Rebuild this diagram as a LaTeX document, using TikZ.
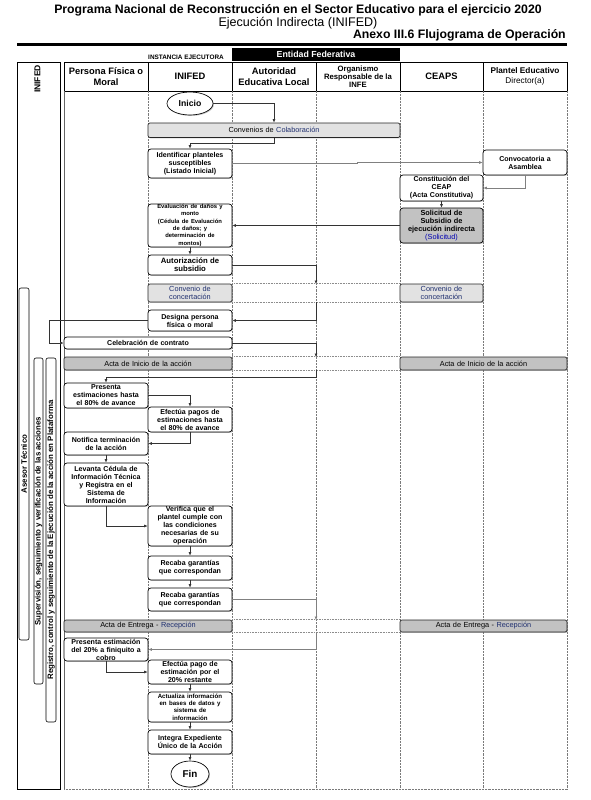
\documentclass[tikz,border=0pt]{standalone}
\usepackage{fontspec}
\setmainfont{Liberation Sans}
\usetikzlibrary{arrows.meta,shadows,calc,shapes.geometric}
\definecolor{barlight}{HTML}{E2E2E2}
\definecolor{bardark}{HTML}{C2C2C2}
\definecolor{lanegray}{HTML}{7A7A7A}
\definecolor{navy}{HTML}{1F2F6F}
\newcommand{\fs}[2]{\fontsize{#1}{#2}\selectfont}
\tikzset{
  shad/.style={drop shadow={shadow xshift=0.7pt, shadow yshift=-0.7pt, fill=black!45}},
  box/.style={draw=black, line width=0.5pt, rounded corners=2.2pt, fill=white, inner sep=0pt,
    align=center, font=\bfseries\fs{5.3}{6}, shad},
  graybox/.style={box, fill=bardark},
  bar/.style={draw=black!85, line width=0.5pt, rounded corners=1.5pt, fill=barlight, inner sep=0pt,
    align=center, font=\fs{5.5}{6.2}, shad},
  darkbar/.style={bar, fill=bardark},
  term/.style={ellipse, draw=black, line width=0.5pt, fill=white, inner sep=0pt, font=\bfseries\fs{6.5}{7.5}, shad},
  arr/.style={-{Latex[length=2.6pt,width=2.2pt]}, line width=0.45pt, draw=black!80},
  garr/.style={arr, draw=black!50},
  lane/.style={draw=lanegray, line width=0.4pt, dash pattern=on 1.6pt off 0.8pt},
  dotl/.style={draw=black!45, line width=0.7pt, dash pattern=on 0.6pt off 0.6pt},
  vbar/.style={draw=black, line width=0.45pt, rounded corners=1.5pt, fill=white, inner sep=0pt,
    font=\bfseries\fs{5.9}{6.5}},
  hdr/.style={align=center, font=\bfseries\fs{7}{7.9}, inner sep=0pt}
}
\newcommand{\bx}[7]{%
  \pgfmathsetlengthmacro{\bxw}{(#5-#3)*0.75pt}%
  \pgfmathsetlengthmacro{\bxh}{(#6-#4)*0.75pt}%
  \pgfmathsetlengthmacro{\bxt}{(#5-#3-3)*0.75pt}%
  \node[#2, minimum width=\bxw, minimum height=\bxh, text width=\bxt] (#1) at ({(#3+#5)/2},{(#4+#6)/2}) {#7};}
\begin{document}
\begin{tikzpicture}[x=0.75pt,y=-0.75pt]
\useasboundingbox (0,0) rectangle (590,800);
% titles
\node[font=\bfseries\fs{9.2}{10}, inner sep=0pt] (t1) at (298,10.5) {Programa Nacional de Reconstrucción en el Sector Educativo para el ejercicio 2020};
\node[font=\fs{9.4}{10}, inner sep=0pt] (t2) at (298,23) {Ejecución Indirecta (INIFED)};
\node[font=\bfseries\fs{9.2}{10}, inner sep=0pt, anchor=east] (t3) at (566,35.5) {Anexo III.6 Flujograma de Operación};
\draw[line width=1.8pt] (17,44.5) -- (567,44.5);
% upper header labels
\node[font=\bfseries\fs{4.8}{5.5}, inner sep=0pt] (inst) at (186,57) {INSTANCIA EJECUTORA};
\node[fill=black, text=white, font=\bfseries\fs{6.6}{7.5}, inner sep=0pt, minimum width=126pt, minimum height=9.75pt] (ef) at (316,54.5) {Entidad Federativa};
% INIFED outer lane
\draw[line width=0.5pt] (17,62) rectangle (60,789);
\node[rotate=90, font=\bfseries\fs{6.4}{7}, inner sep=0pt] (inifedv) at (37.5,79) {INIFED};
% header row
\draw[line width=0.5pt] (64,62) rectangle (567,91);
\foreach \x in {148,232,316,400,483} \draw[line width=0.5pt] (\x,62) -- (\x,91);
\node[hdr] (hP) at (106,76.5) {Persona Física o\\Moral};
\node[hdr] (hI) at (190,76.5) {INIFED};
\node[hdr] (hA) at (274,76.5) {Autoridad\\Educativa Local};
\node[hdr, font=\bfseries\fs{5.8}{6.2}] (hO) at (358,76.5) {Organismo\\Responsable de la\\INFE};
\node[hdr] (hC) at (441.5,76.5) {CEAPS};
\node[hdr, font=\bfseries\fs{6.2}{7}] (hPl) at (525,76.5) {Plantel Educativo\\\mdseries Director(a)};
% lanes
\foreach \x in {148,232,316,400,483} \draw[lane] (\x,91) -- (\x,789);
\draw[lane] (567,91) -- (567,789) -- (64,789);
\draw[draw=black!60, line width=0.4pt] (64,91) -- (64,789);
% left vertical bars
\node[vbar, rotate=90, minimum width=264pt, minimum height=7.5pt] (ases) at (24,464) {Asesor Técnico};
\node[vbar, rotate=90, minimum width=244.5pt, minimum height=6.75pt] (superv) at (38.5,521) {Supervisión, seguimiento y verificación de las acciones};
\node[vbar, rotate=90, minimum width=273pt, minimum height=7.5pt] (regis) at (51,540) {Registro, control y seguimiento de la Ejecución de la acción en Plataforma};
% nodes
\node[term, minimum width=34.5pt, minimum height=17.25pt] (inicio) at (190,103.5) {Inicio};
\bx{conv}{bar}{148}{123}{400}{137.5}{Convenios de {\color{navy}Colaboración}}
\bx{ident}{box}{148}{149}{232}{178}{Identificar planteles\\susceptibles\\(Listado Inicial)}
\bx{convoc}{box}{483}{150}{567}{175}{Convocatoria a\\Asamblea}
\bx{ceap}{box}{400}{175}{483}{201}{Constitución del\\CEAP\\(Acta Constitutiva)}
\bx{solic}{graybox}{400}{208}{483}{243}{\fs{5.5}{6.1}Solicitud de\\Subsidio de\\ejecución indirecta\\\mdseries{\color{blue!70!black}(Solicitud)}}
\bx{eval}{box}{148}{204}{232}{247}{\fs{4.4}{5.4}Evaluación de daños y\\monto\\(Cédula de Evaluación\\de daños; y\\determinación de\\montos)}
\bx{autor}{box}{148}{255}{232}{275}{\fs{5.8}{6.5}Autorización de\\subsidio}
\bx{concL}{bar}{148}{284}{232}{302}{\color{navy}Convenio de\\concertación}
\bx{concR}{bar}{400}{284}{483}{302}{\color{navy}Convenio de\\concertación}
\bx{designa}{box}{148}{310}{232}{331}{Designa persona\\física o moral}
\bx{celeb}{box}{64}{337}{232}{349}{Celebración de contrato}
\bx{aiL}{darkbar}{64}{357}{232}{370}{Acta de Inicio de la acción}
\bx{aiR}{darkbar}{400}{357}{567}{370}{Acta de Inicio de la acción}
\bx{pres}{box}{64}{383}{148}{408}{Presenta\\estimaciones hasta\\el 80\% de avance}
\bx{efec}{box}{148}{407}{232}{432}{Efectúa pagos de\\estimaciones hasta\\el 80\% de avance}
\bx{notif}{box}{64}{432}{148}{455}{Notifica terminación\\de la acción}
\bx{levan}{box}{64}{463}{148}{506}{Levanta Cédula de\\Información Técnica\\y Registra en el\\Sistema de\\Información}
\bx{verif}{box}{148}{506}{232}{546}{Verifica que el\\plantel cumple con\\las condiciones\\necesarias de su\\operación}
\bx{recA}{box}{148}{556}{232}{580}{Recaba garantías\\que correspondan}
\bx{recB}{box}{148}{588}{232}{611}{Recaba garantías\\que correspondan}
\bx{aeL}{darkbar}{64}{620}{232}{632}{Acta de Entrega - {\color{navy}Recepción}}
\bx{aeR}{darkbar}{400}{620}{567}{632}{Acta de Entrega - {\color{navy}Recepción}}
\bx{pest}{box}{64}{638}{148}{661}{Presenta estimación\\del 20\% a finiquito a\\cobro}
\bx{epago}{box}{148}{660}{232}{684}{Efectúa pago de\\estimación por el\\20\% restante}
\bx{actu}{box}{148}{692}{232}{722}{\fs{4.6}{5.3}Actualiza información\\en bases de datos y\\sistema de\\información}
\bx{integ}{box}{148}{730}{232}{754}{Integra Expediente\\Único de la Acción}
\node[term, font=\bfseries\fs{7.4}{8}, minimum width=28.5pt, minimum height=19.5pt] (fin) at (190,774) {Fin};
% dotted bands
\draw[dotl] (concL.north east) -- (concR.north west);
\draw[dotl] (concL.south east) -- (concR.south west);
\draw[dotl] (aiL.north east) -- (aiR.north west);
\draw[dotl] (aiL.south east) -- (aiR.south west);
\draw[dotl] (aeL.north east) -- (aeR.north west);
\draw[dotl] (aeL.south east) -- (aeR.south west);
\coordinate (cTop) at (316,284);
\coordinate (cBot) at (316,302);
\coordinate (iTop) at (316,357);
\coordinate (iBot) at (316,370);
\coordinate (eTop) at (316,620);
\coordinate (eBot) at (316,632);
% connectors
\draw[arr] (inicio.east) -| (conv.north);
\draw[arr] (conv.south) -- ++(0,5.5) -| (ident.north);
\draw[garr] (ident.east) -| ($(ident.east)!0.5!(convoc.west)$) |- (convoc.west);
\draw[garr] (convoc.south) |- (ceap.east);
\draw[arr] (ceap.south) -- (solic.north);
\draw[arr] (solic.west) -- (eval.east);
\draw[arr] (eval.south) -- (autor.north);
\draw[arr] (autor.east) -| (cTop);
\draw[arr] (cBot) |- (designa.east);
\draw[arr] (designa.west) -- ++(-98,0) |- (celeb.west);
\draw[arr] (celeb.east) -| (iTop);
\draw[arr] (iBot) -- ++(0,7) -| (pres.north);
\draw[arr] (pres.east) -| (efec.north);
\draw[arr] (efec.south) |- (notif.east);
\draw[arr] (notif.south) -- (levan.north);
\draw[arr] (levan.south) |- (verif.west);
\draw[arr] (verif.south) -- (recA.north);
\draw[arr] (recA.south) -- (recB.north);
\draw[garr] (recB.east) -| (eTop);
\draw[garr] (eBot) |- (pest.east);
\draw[arr] (pest.south) |- (epago.west);
\draw[arr] (epago.south) -- (actu.north);
\draw[arr] (actu.south) -- (integ.north);
\draw[arr] (integ.south) -- (fin.north);
\end{tikzpicture}
\end{document}
